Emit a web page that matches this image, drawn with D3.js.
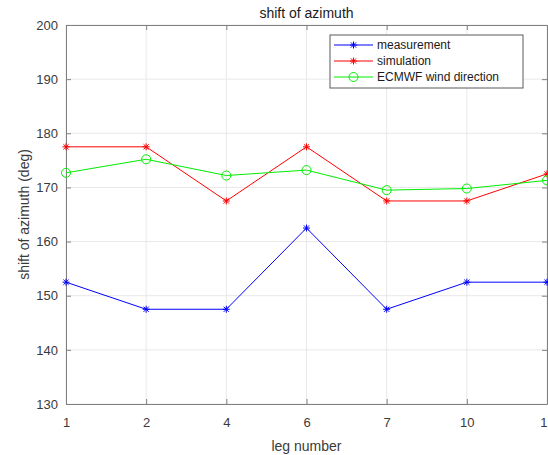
<!DOCTYPE html>
<html>
<head>
<meta charset="utf-8">
<script src="https://cdn.jsdelivr.net/npm/d3@7"></script>
<style>
  html, body { margin: 0; padding: 0; background: #fff; overflow: hidden; }
  svg { display: block; font-family: "Liberation Sans", Arial, sans-serif; }
</style>
</head>
<body>
<svg id="chart" width="548" height="455"></svg>
<script>
// ---- data ----
const legNumbers = ["1", "2", "4", "6", "7", "10", "12"];
const measurement = [152.5, 147.5, 147.5, 162.5, 147.5, 152.5, 152.5];
const simulation = [177.5, 177.5, 167.5, 177.5, 167.5, 167.5, 172.5];
const ecmwf = [172.7, 175.2, 172.2, 173.2, 169.5, 169.8, 171.3];
const yTicks = [130, 140, 150, 160, 170, 180, 190, 200];
const seriesNames = ["measurement", "simulation", "ECMWF wind direction"];

const series = [
  { name: seriesNames[0], values: measurement, color: "#0000ff", marker: "star" },
  { name: seriesNames[1], values: simulation, color: "#ff0000", marker: "star" },
  { name: seriesNames[2], values: ecmwf, color: "#00ee00", marker: "circle" }
];

// ---- layout ----
const svg = d3.select("#chart");
const pL = 66, pR = 547, pT = 25, pB = 404;
const axisColor = "#808080";
const textColor = "#3a3a3a";

const x = d3.scalePoint().domain(legNumbers).range([pL, pR]);
const y = d3.scaleLinear().domain([130, 200]).range([pB, pT]);

// grid
const grid = svg.append("g");
grid.selectAll("line.gx").data(legNumbers).enter().append("line")
  .attr("x1", d => x(d)).attr("x2", d => x(d))
  .attr("y1", pT).attr("y2", pB)
  .attr("stroke", "#e8e8e8").attr("stroke-width", 1);
grid.selectAll("line.gy").data(yTicks).enter().append("line")
  .attr("x1", pL).attr("x2", pR)
  .attr("y1", d => y(d)).attr("y2", d => y(d))
  .attr("stroke", "#e8e8e8").attr("stroke-width", 1);

// axes (ticks pointing inward, MATLAB style)
const xAxis = d3.axisBottom(x).tickSizeInner(-5).tickSizeOuter(0).tickPadding(14);
const gx = svg.append("g").attr("transform", `translate(0,${pB})`).call(xAxis);
const xAxisTop = d3.axisTop(x).tickSizeInner(-5).tickSizeOuter(0).tickFormat("");
const gxt = svg.append("g").attr("transform", `translate(0,${pT})`).call(xAxisTop);
const yAxis = d3.axisLeft(y).tickValues(yTicks).tickSizeInner(-5).tickSizeOuter(0).tickPadding(8);
const gy = svg.append("g").attr("transform", `translate(${pL},0)`).call(yAxis);
const yAxisRight = d3.axisRight(y).tickValues(yTicks).tickSizeInner(-5).tickSizeOuter(0).tickFormat("");
const gyr = svg.append("g").attr("transform", `translate(${pR},0)`).call(yAxisRight);

[gx, gxt, gy, gyr].forEach(g => {
  g.select(".domain").attr("stroke", axisColor).attr("stroke-width", 1);
  g.selectAll(".tick line").attr("stroke", axisColor);
  g.selectAll(".tick text").attr("fill", textColor)
    .style("font-size", "13px").style("font-family", "'Liberation Sans', Arial, sans-serif");
});

// titles
svg.append("text").attr("x", (pL + pR) / 2).attr("y", 18)
  .attr("text-anchor", "middle").attr("fill", "#1a1a1a")
  .style("font-size", "14px").text("shift of azimuth");
svg.append("text").attr("x", (pL + pR) / 2).attr("y", 451)
  .attr("text-anchor", "middle").attr("fill", textColor)
  .style("font-size", "14px").text("leg number");
svg.append("text")
  .attr("transform", `translate(29,${(pT + pB) / 2}) rotate(-90)`)
  .attr("text-anchor", "middle").attr("fill", textColor)
  .style("font-size", "14px").text("shift of azimuth (deg)");

// markers
function drawMarker(g, cx, cy, type, color) {
  if (type === "star") {
    const s = 3.5, d = 2.6;
    const p = `M${cx - s},${cy}L${cx + s},${cy}M${cx},${cy - s}L${cx},${cy + s}` +
              `M${cx - d},${cy - d}L${cx + d},${cy + d}M${cx - d},${cy + d}L${cx + d},${cy - d}`;
    g.append("path").attr("d", p).attr("stroke", color).attr("stroke-width", 1).attr("fill", "none");
  } else {
    g.append("circle").attr("cx", cx).attr("cy", cy).attr("r", 4.5)
      .attr("stroke", color).attr("stroke-width", 1).attr("fill", "none");
  }
}

// lines
const line = d3.line().x((d, i) => x(legNumbers[i])).y(d => y(d));
const plot = svg.append("g");
series.forEach(s => {
  plot.append("path").datum(s.values).attr("d", line)
    .attr("fill", "none").attr("stroke", s.color).attr("stroke-width", 1);
  s.values.forEach((v, i) => drawMarker(plot, x(legNumbers[i]), y(v), s.marker, s.color));
});

// legend
const lg = svg.append("g");
const lgX = 330, lgY = 35, lgW = 193, lgH = 53;
lg.append("rect").attr("x", lgX).attr("y", lgY).attr("width", lgW).attr("height", lgH)
  .attr("fill", "#fff").attr("stroke", "#5a5a5a").attr("stroke-width", 1);
series.forEach((s, i) => {
  const ry = lgY + 10 + i * 16;
  lg.append("line").attr("x1", lgX + 4).attr("x2", lgX + 43).attr("y1", ry).attr("y2", ry)
    .attr("stroke", s.color).attr("stroke-width", 1);
  drawMarker(lg, lgX + 23.5, ry, s.marker, s.color);
  lg.append("text").attr("x", lgX + 47).attr("y", ry).attr("dy", "0.35em")
    .attr("fill", "#1a1a1a").style("font-size", "12px").text(s.name);
});
</script>
</body>
</html>
